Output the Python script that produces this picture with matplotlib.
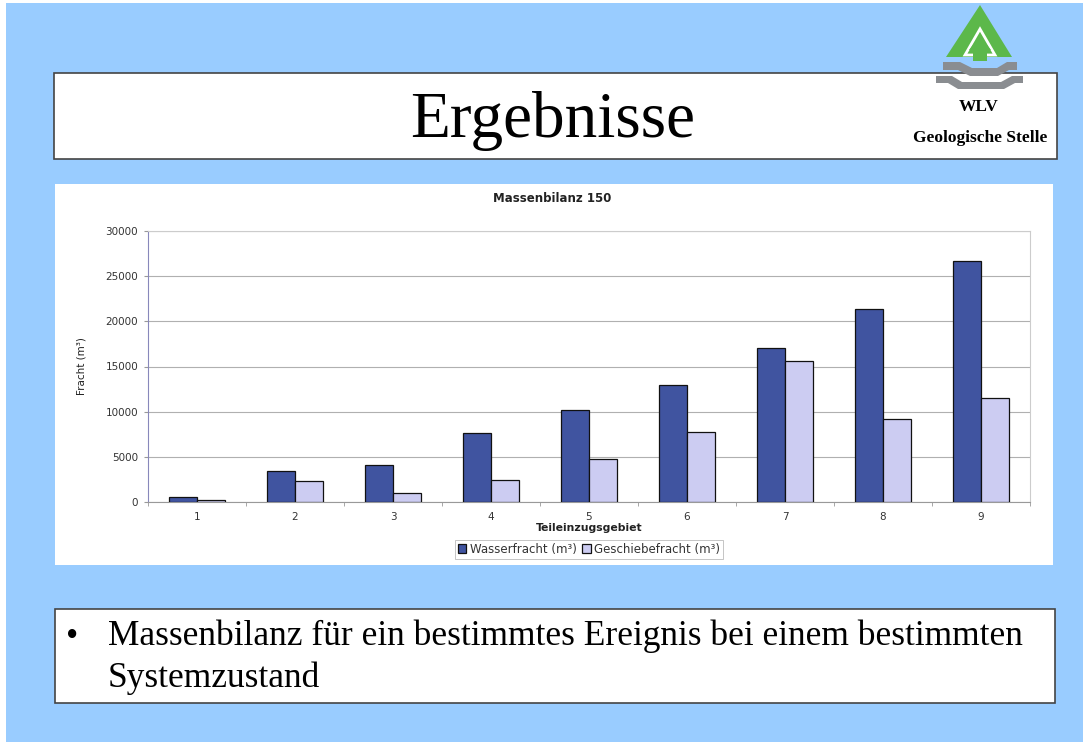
import numpy as np
import matplotlib.pyplot as plt
from matplotlib.patches import Rectangle, Polygon

# data
gebiete = ["1", "2", "3", "4", "5", "6", "7", "8", "9"]
wasserfracht = [600, 3470, 4100, 7620, 10230, 13000, 17080, 21350, 26700]
geschiebefracht = [250, 2330, 1050, 2460, 4800, 7750, 15600, 9200, 11550]
y_ticks = [0, 5000, 10000, 15000, 20000, 25000, 30000]

slide_title = "Ergebnisse"
chart_title = "Massenbilanz 150"
bullet_text = "Massenbilanz für ein bestimmtes Ereignis bei einem bestimmten\nSystemzustand"

W, H = 1083, 742
fig = plt.figure(figsize=(W / 100, H / 100), dpi=100)
fig.patch.set_facecolor("#99ccff")

# slide layer in pixel coords
bg = fig.add_axes([0, 0, 1, 1])
bg.set_xlim(0, W)
bg.set_ylim(H, 0)
bg.axis("off")

bg.add_patch(Rectangle((0, 0), 6, H, color="white", lw=0))
bg.add_patch(Rectangle((0, 0), W, 3, color="white", lw=0))

# title box
bg.add_patch(Rectangle((54, 73), 1003, 86, facecolor="white", edgecolor="#444444", lw=1.2))
bg.text(553, 121, slide_title, family="Liberation Serif", fontsize=47,
        ha="center", va="center", color="black")
bg.text(979, 107, "WLV", family="Liberation Serif", fontsize=12.5, weight="bold",
        ha="center", va="center")
bg.text(980, 138, "Geologische Stelle", family="Liberation Serif", fontsize=12.5,
        weight="bold", ha="center", va="center")

# logo
bg.add_patch(Polygon([(980, 5), (946, 57), (1012, 57)], color="#5cb84a", lw=0))
bg.add_patch(Polygon([(980, 29), (965, 55), (995, 55)], facecolor="none",
                     edgecolor="white", lw=2))
bg.add_patch(Polygon([(980, 36), (969, 50), (973, 50), (973, 61), (987, 61),
                      (987, 50), (991, 50)], color="#5cb84a", lw=0))
bg.add_patch(Polygon([(943, 62), (960, 62), (972, 68), (997, 68), (1007, 62),
                      (1017, 62), (1017, 70), (1009, 70), (998, 76), (970, 76),
                      (958, 70), (943, 70)], color="#8a8d91", lw=0))
bg.add_patch(Polygon([(936, 76), (952, 76), (962, 82), (1001, 82), (1012, 76),
                      (1023, 76), (1023, 83), (1015, 83), (1004, 89), (958, 89),
                      (948, 83), (936, 83)], color="#8a8d91", lw=0))

# chart picture area
bg.add_patch(Rectangle((55, 184), 998, 381, facecolor="white", lw=0))
bg.text(552, 198, chart_title, family="DejaVu Sans", fontsize=8.5,
        weight="bold", ha="center", va="center", color="#222222")

# bottom text box
bg.add_patch(Rectangle((55, 609), 1000, 94, facecolor="white", edgecolor="#444444", lw=1.2))
bg.text(72, 637, "•", family="Liberation Serif", fontsize=25, ha="center", va="center")
bg.text(108, 657, bullet_text, family="Liberation Serif", fontsize=25.5,
        ha="left", va="center", linespacing=1.33)

# bar chart
ax = fig.add_axes([148 / W, 1 - 502 / H, 882 / W, 271 / H])
x = np.arange(len(gebiete))
bw = 0.29
ax.bar(x - bw / 2, wasserfracht, bw, color="#4054a0", edgecolor="#111111", lw=0.9,
       label="Wasserfracht (m³)", zorder=3)
ax.bar(x + bw / 2, geschiebefracht, bw, color="#ccccf2", edgecolor="#111111", lw=0.9,
       label="Geschiebefracht (m³)", zorder=3)

ax.set_xlim(-0.5, len(gebiete) - 0.5)
ax.set_ylim(0, 30000)
ax.set_yticks(y_ticks)
ax.set_yticklabels([str(v) for v in y_ticks])
ax.set_xticks(x)
ax.set_xticklabels(gebiete)
ax.set_xticks(np.arange(len(gebiete) + 1) - 0.5, minor=True)
ax.tick_params(axis="x", which="major", length=0, pad=7)
ax.tick_params(axis="x", which="minor", length=3, color="#999999")
ax.tick_params(axis="y", length=3, color="#999999", pad=4)
for lab in ax.get_xticklabels() + ax.get_yticklabels():
    lab.set_fontsize(7.5)
    lab.set_family("DejaVu Sans")
    lab.set_color("#333333")
ax.grid(axis="y", color="#b0b0b0", lw=0.8, zorder=0)
for side in ["top", "right"]:
    ax.spines[side].set_color("#cccccc")
ax.spines["left"].set_color("#8888bb")
ax.spines["bottom"].set_color("#999999")

ax.set_xlabel("Teileinzugsgebiet", family="DejaVu Sans", fontsize=7.8,
              weight="bold", color="#222222", labelpad=1)
ax.set_ylabel("Fracht (m³)", family="Liberation Sans Narrow", fontsize=7.5,
              color="#222222", labelpad=14)

leg = ax.legend(loc="upper center", bbox_to_anchor=(0.5, -0.117), ncol=2,
                prop={"family": "DejaVu Sans", "size": 8.5}, frameon=True,
                fancybox=False, edgecolor="#aaaaaa", handlelength=0.7,
                handleheight=0.7, handletextpad=0.3, columnspacing=0.5,
                borderpad=0.25)
leg.get_frame().set_linewidth(0.6)
for t in leg.get_texts():
    t.set_color("#333333")

fig.savefig("out.png", dpi=100, facecolor=fig.get_facecolor())
